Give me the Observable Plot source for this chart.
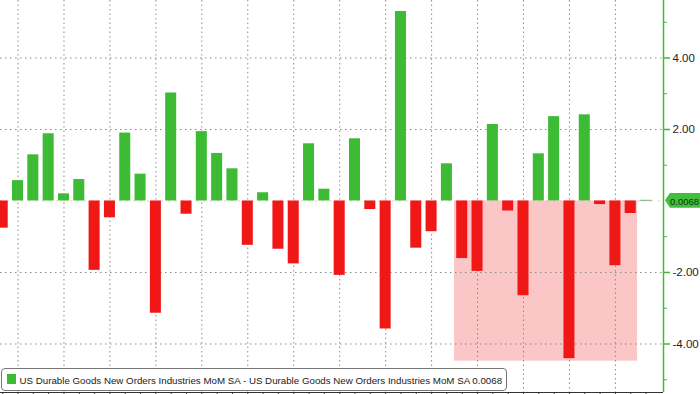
<!DOCTYPE html>
<html><head><meta charset="utf-8">
<script src="https://cdn.jsdelivr.net/npm/d3@7"></script>
<script src="https://cdn.jsdelivr.net/npm/@observablehq/plot@0.6"></script>
<style>
body{margin:0;background:#fff;}
#wrap{position:relative;width:700px;height:394px;overflow:hidden;background:#fff;}
#tag{position:absolute;left:665px;height:15px;width:35px;background:#3fbf3a;
  clip-path:polygon(0 50%,5px 0,100% 0,100% 100%,5px 100%);}
#legend{position:absolute;left:1px;top:368px;width:506px;height:23px;border:1px solid #777;border-radius:4px;background:#fff;box-sizing:border-box;}
</style></head><body><div id="wrap"></div>
<script>
// Monthly MoM % changes (left to right)
const values = [-0.76,0.57,1.29,1.88,0.20,0.60,-1.94,-0.47,1.90,0.75,-3.14,3.02,-0.37,1.94,1.33,0.90,-1.24,0.23,-1.35,-1.76,1.60,0.33,-2.08,1.74,-0.24,-3.58,5.30,-1.32,-0.86,1.04,-1.61,-1.97,2.14,-0.28,-2.65,1.32,2.36,-4.41,2.41,-0.10,-1.81,-0.35,0.0068];
const yTicks = [-4, -2, 2, 4];
const yMinorTicks = [-5, -3, -1, 1, 3, 5];
const xGridIndex = [1, 4, 7, 10, 13, 16, 19, 22, 25, 28, 31, 34, 37, 40];
const shadeX = [29.5, 41.45];
const shadeY = [0, -4.48];
const seriesName = "US Durable Goods New Orders Industries MoM SA";
const lastLabel = "0.0068";

const GREEN = "#3dbb35", RED = "#f01717", PINK = "#fac6c6";
const FONT = "'Liberation Sans', Arial, sans-serif";
const xDomain = [-0.144, 43.14];
const yDomain = [-5.357, 5.608];
const data = values.map((v, i) => ({i, v}));
const idx = values.map((v, i) => i);

const plot = Plot.plot({
  width: 700, height: 394,
  marginLeft: 0, marginRight: 37, marginTop: 0, marginBottom: 2,
  style: {background: "#fff", fontFamily: FONT, overflow: "visible"},
  x: {type: "linear", domain: xDomain, axis: null},
  y: {domain: yDomain, axis: null},
  marks: [
    Plot.rect([{}], {x1: shadeX[0], x2: shadeX[1], y1: shadeY[0], y2: shadeY[1], fill: PINK}),
    Plot.gridY(yTicks, {stroke: "#8a8a8a", strokeOpacity: 1, strokeDasharray: "1.5,3.5"}),
    Plot.gridX(xGridIndex, {stroke: "#8a8a8a", strokeOpacity: 1, strokeDasharray: "1.5,3"}),
    Plot.ruleY([0], {stroke: "#f3b383", strokeDasharray: "2,5", strokeOpacity: 0.7}),
    Plot.rect(data, {x1: d => d.i - 0.36, x2: d => d.i + 0.36, y1: 0, y2: d => d.v,
      fill: d => d.v >= 0 ? GREEN : RED, stroke: d => Math.abs(d.v) < 0.05 ? "#8fbf8a" : "none", strokeWidth: 1}),
    Plot.ruleX([xDomain[1]], {stroke: GREEN, strokeWidth: 1.5}),
    Plot.ruleY([yDomain[0]], {stroke: "#333", strokeWidth: 1}),
    Plot.axisX({anchor: "bottom", ticks: idx, tickSize: 2, tickFormat: () => "", stroke: "#333"}),
    Plot.axisY({anchor: "right", ticks: yMinorTicks, tickSize: 3, tickFormat: () => "", stroke: GREEN}),
    Plot.axisY({anchor: "right", ticks: yTicks, tickSize: 6, tickPadding: 3, tickFormat: d => d.toFixed(2),
      stroke: GREEN, fill: "#222", fontSize: 11.5, strokeWidth: 1.5})
  ]
});
const wrap = document.getElementById("wrap");
wrap.appendChild(plot);
const ns = "http://www.w3.org/2000/svg";

function fitText(textEl, target, maxSize) {
  textEl.setAttribute("font-size", maxSize);
  const w = textEl.getComputedTextLength();
  if (w > target) textEl.setAttribute("font-size", (maxSize * target / w).toFixed(2));
}

// last-value tag on the right axis
const yPx = plot.scale("y").apply(values[values.length - 1]);
const tag = document.createElement("div");
tag.id = "tag";
tag.style.top = (yPx - 7.5) + "px";
const tsvg = document.createElementNS(ns, "svg");
tsvg.setAttribute("width", 35); tsvg.setAttribute("height", 15);
tsvg.style.display = "block";
const tt = document.createElementNS(ns, "text");
tt.setAttribute("x", 5); tt.setAttribute("y", 11.5);
tt.setAttribute("font-family", FONT);
tt.setAttribute("fill", "#10300f");
tt.textContent = lastLabel;
tsvg.appendChild(tt);
tag.appendChild(tsvg);
wrap.appendChild(tag);
fitText(tt, 29, 11.5);

// legend box
const legend = document.createElement("div");
legend.id = "legend";
const svg = document.createElementNS(ns, "svg");
svg.setAttribute("width", 504); svg.setAttribute("height", 21);
svg.style.display = "block";
const sq = document.createElementNS(ns, "rect");
sq.setAttribute("x", 5); sq.setAttribute("y", 5); sq.setAttribute("width", 9); sq.setAttribute("height", 10);
sq.setAttribute("fill", GREEN);
svg.appendChild(sq);
const t = document.createElementNS(ns, "text");
t.setAttribute("x", 17.5); t.setAttribute("y", 15);
t.setAttribute("font-family", FONT);
t.setAttribute("fill", "#222");
t.textContent = seriesName + " - " + seriesName + " " + lastLabel;
svg.appendChild(t);
legend.appendChild(svg);
wrap.appendChild(legend);
fitText(t, 483, 11.5);
</script></body></html>
